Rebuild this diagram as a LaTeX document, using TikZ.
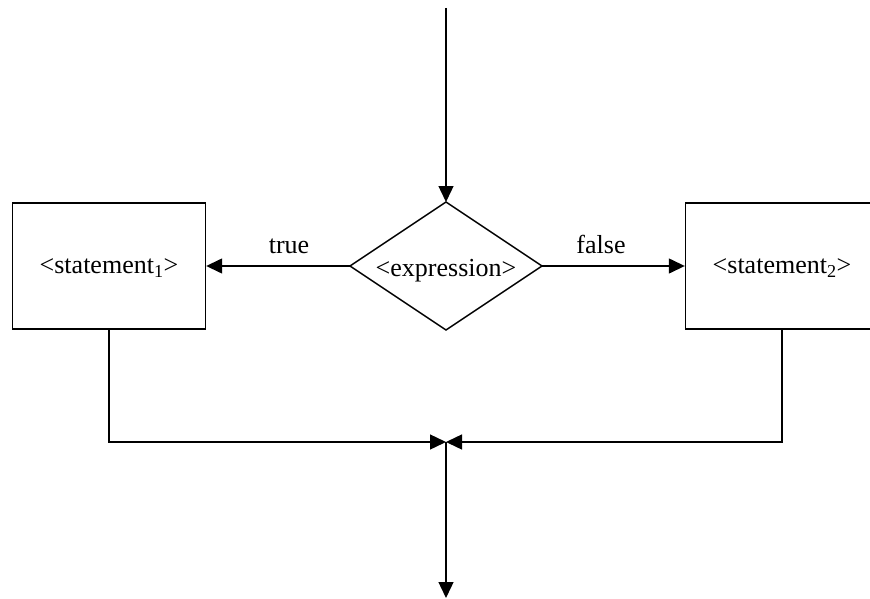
\documentclass[tikz,border=0pt]{standalone}
\usepackage{fontspec}
\setmainfont{Liberation Serif}
\usetikzlibrary{arrows.meta}
\begin{document}
\begin{tikzpicture}[x=1pt,y=-1pt,
  every node/.style={font=\fontsize{26}{30}\selectfont},
  box/.style={draw,line width=1.4pt,minimum width=193pt,minimum height=126pt,inner sep=0pt,text depth=0pt},
  shapeline/.style={draw,line width=1.4pt,line join=miter},
  conn/.style={line width=1.4pt,-{Triangle[length=16pt,width=15pt]}},
  lbl/.style={anchor=base}]
\useasboundingbox (0,0) rectangle (870,599);
\coordinate (top) at (446,8);
\node[inner sep=0pt,text depth=0pt] (expr) at (446,268) {<expression>};
\coordinate (dN) at (446,202);
\coordinate (dE) at (542,266);
\coordinate (dS) at (446,330);
\coordinate (dW) at (350,266);
\path[shapeline] (dN) -- (dE) -- (dS) -- (dW) -- cycle;
\node[box] (s1) at (109,266) {<statement\textsubscript{1}>};
\node[box] (s2) at (782,266) {<statement\textsubscript{2}>};
\coordinate (j) at (446,442);
\coordinate (bot) at (446,598);
\draw[conn] (top) -- (dN);
\draw[conn] (dW) -- (s1.east);
\node[lbl] (tlab) at (289,253) {true};
\draw[conn] (dE) -- (s2.west);
\node[lbl] (flab) at (601,253) {false};
\draw[conn] (s1.south) |- (j);
\draw[conn] (s2.south) |- (j);
\draw[conn] (j) -- (bot);
\end{tikzpicture}
\end{document}
